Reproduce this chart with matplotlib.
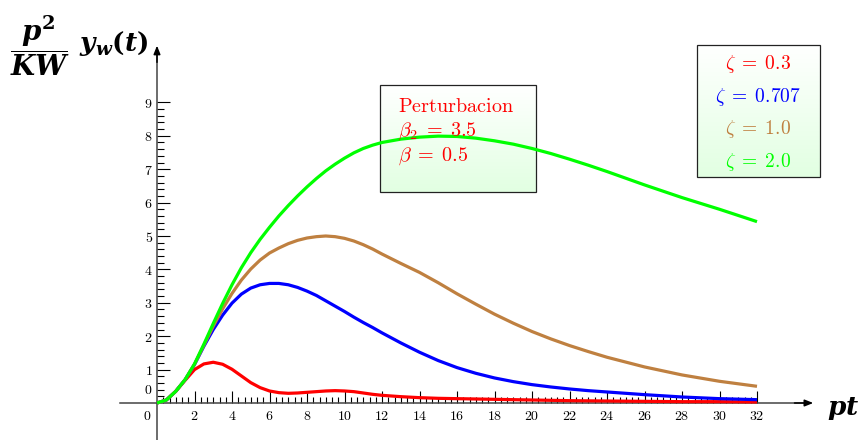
import numpy as np
import matplotlib
matplotlib.use("Agg")
import matplotlib.pyplot as plt
from matplotlib.patches import Rectangle

plt.rcParams['mathtext.fontset'] = 'cm'
plt.rcParams['font.family'] = ['DejaVu Serif']

# valores
pt = [0, 0.5, 1, 1.5, 2, 2.5, 3, 3.5, 4, 4.5, 5, 5.5, 6, 6.5, 7, 7.5, 8, 8.5,
      9, 9.5, 10, 10.5, 11, 11.5, 12,
      13, 14, 15, 16, 17, 18, 19, 20, 21, 22, 23,
      24, 26, 28, 30, 32]

y_zeta_03 = [0, 0.09, 0.35, 0.68, 1.00, 1.17, 1.22, 1.16, 1.01, 0.81, 0.61, 0.46,
             0.36, 0.31, 0.29, 0.30, 0.32, 0.34, 0.36, 0.37, 0.36, 0.34, 0.30, 0.26, 0.23,
             0.19, 0.16, 0.14, 0.13, 0.12, 0.11, 0.10, 0.09, 0.08, 0.07, 0.065,
             0.06, 0.05, 0.04, 0.04, 0.03]
y_zeta_0707 = [0, 0.09, 0.35, 0.70, 1.15, 1.70, 2.20, 2.63, 2.99, 3.26, 3.44, 3.54,
               3.58, 3.58, 3.54, 3.46, 3.35, 3.22, 3.06, 2.90, 2.74, 2.57, 2.41, 2.26, 2.10,
               1.80, 1.52, 1.27, 1.06, 0.89, 0.75, 0.64, 0.55, 0.48, 0.42, 0.37,
               0.33, 0.25, 0.18, 0.13, 0.10]
y_zeta_10 = [0, 0.09, 0.35, 0.70, 1.16, 1.73, 2.30, 2.82, 3.28, 3.68, 4.01, 4.28,
             4.49, 4.64, 4.77, 4.87, 4.94, 4.98, 5.00, 4.98, 4.93, 4.85, 4.74, 4.61, 4.46,
             4.18, 3.91, 3.60, 3.27, 2.96, 2.66, 2.39, 2.14, 1.92, 1.72, 1.54,
             1.37, 1.08, 0.84, 0.65, 0.50]
y_zeta_20 = [0, 0.09, 0.35, 0.70, 1.17, 1.76, 2.38, 2.98, 3.54, 4.05, 4.50, 4.90,
             5.26, 5.60, 5.91, 6.20, 6.47, 6.72, 6.95, 7.15, 7.33, 7.49, 7.62, 7.72, 7.80,
             7.90, 7.96, 7.99, 7.98, 7.93, 7.85, 7.75, 7.62, 7.47, 7.30, 7.12,
             6.93, 6.53, 6.15, 5.80, 5.43]

curvas = [
    (y_zeta_03, '#ff0000', r'$\zeta\;=\;0.3$'),
    (y_zeta_0707, '#0000ff', r'$\zeta\;=\;0.707$'),
    (y_zeta_10, '#bf8040', r'$\zeta\;=\;1.0$'),
    (y_zeta_20, '#00ff00', r'$\zeta\;=\;2.0$'),
]

x_major = list(range(2, 33, 2))
y_major = list(range(1, 10))

W, H = 859, 440
x0, y0 = 157, 403          # origem em pixels
sx, sy = 18.75, 33.4       # pixels por unidade

fig = plt.figure(figsize=(W / 100, H / 100), dpi=100)
ax = fig.add_axes([0, 0, 1, 1])
ax.set_xlim(-x0 / sx, (W - x0) / sx)
ax.set_ylim(-(H - y0) / sy, y0 / sy)
ax.patch.set_visible(False)

# eixos
cor_eixo = '#444444'
for s in ['top', 'right']:
    ax.spines[s].set_visible(False)
ax.spines['left'].set_position(('data', 0))
ax.spines['bottom'].set_position(('data', 0))
ax.spines['left'].set_bounds(-1.2, 10.5)
ax.spines['bottom'].set_bounds(-2.0, 34.6)
for s in ['left', 'bottom']:
    ax.spines[s].set_color(cor_eixo)
    ax.spines[s].set_linewidth(1.1)
ax.annotate('', xy=(35.0, 0), xytext=(34.0, 0),
            arrowprops=dict(arrowstyle='-|>,head_length=0.5,head_width=0.2',
                            color='black', lw=1.1, shrinkA=0, shrinkB=0))
ax.annotate('', xy=(0, 10.7), xytext=(0, 10.2),
            arrowprops=dict(arrowstyle='-|>,head_length=0.5,head_width=0.2',
                            color='black', lw=1.1, shrinkA=0, shrinkB=0))

ax.set_xticks(x_major)
ax.set_xticklabels([f'${v}$' for v in x_major])
x_minor = [k / 3 for k in range(1, 97) if k % 6 != 0]
ax.set_xticks(x_minor, minor=True)
ax.set_yticks(y_major)
ax.set_yticklabels([f'${v}$' for v in y_major])
y_minor = [k / 5 for k in range(1, 46) if k % 5 != 0]
ax.set_yticks(y_minor, minor=True)
ax.tick_params(axis='x', which='major', direction='in', length=9, width=0.8,
               pad=4, labelsize=10, color='black')
ax.tick_params(axis='x', which='minor', direction='in', length=4.5, width=0.8,
               color='black')
ax.tick_params(axis='y', which='major', direction='in', length=9.5, width=0.8,
               pad=3, labelsize=10, color='black')
ax.tick_params(axis='y', which='minor', direction='in', length=5, width=0.8,
               color='black')
ax.annotate('$0$', xy=(0, 0), xytext=(-7, -4), textcoords='offset points',
            ha='center', va='top', fontsize=10)
ax.annotate('$0$', xy=(0, 0.4), xytext=(-3, 0), textcoords='offset points',
            ha='right', va='center', fontsize=10)

# caixas com degrade
grad = np.linspace(0, 1, 100).reshape(-1, 1)
def caixa(px1, py1, px2, py2):
    ext = [px1 / W, px2 / W, 1 - py2 / H, 1 - py1 / H]
    cmap = matplotlib.colors.LinearSegmentedColormap.from_list('g', ['#e2ffe2', '#ffffff'])
    ax.imshow(grad, extent=ext, transform=ax.transAxes, cmap=cmap, aspect='auto',
              origin='lower', zorder=1)
    ax.add_patch(Rectangle((ext[0], ext[2]), ext[1] - ext[0], ext[3] - ext[2],
                           transform=ax.transAxes, fill=False, edgecolor='#222222',
                           lw=0.9, zorder=1.5))

caixa(380, 85, 536, 192)
caixa(697, 45, 820, 177)

for y, cor, rot in curvas:
    ax.plot(pt, y, color=cor, lw=2.3, solid_capstyle='butt', solid_joinstyle='round',
            zorder=3)

# textos
fig.text(398 / W, 1 - 106 / H, r'$\mathrm{Perturbacion}$', color='#ff0000',
         fontsize=14.5, ha='left', va='center', zorder=2)
fig.text(398 / W, 1 - 131 / H, r'$\beta_2\;=\;3.5$', color='#ff0000',
         fontsize=14.5, ha='left', va='center', zorder=2)
fig.text(398 / W, 1 - 156 / H, r'$\beta\;=\;0.5$', color='#ff0000',
         fontsize=14.5, ha='left', va='center', zorder=2)
for i, (y, cor, rot) in enumerate(curvas):
    fig.text(758 / W, 1 - (64 + 32.7 * i) / H, rot, color=cor, fontsize=14,
             ha='center', va='center')

fig.text(40 / W, 1 - 46 / H, r'$\dfrac{\mathbfit{p}^{\mathbf{2}}}{\mathbfit{KW}}$',
         fontsize=20, ha='center', va='center', math_fontfamily='dejavuserif')
fig.text(79 / W, 1 - 44 / H, r'$\mathbfit{y}_{\mathbfit{w}}\mathbf{(}\mathbfit{t}\mathbf{)}$',
         fontsize=19, ha='left', va='center', math_fontfamily='dejavuserif')
fig.text(827 / W, 1 - 408 / H, r'$\mathbfit{pt}$', fontsize=19, ha='left',
         va='center', math_fontfamily='dejavuserif')

fig.savefig('out.png', dpi=100)
